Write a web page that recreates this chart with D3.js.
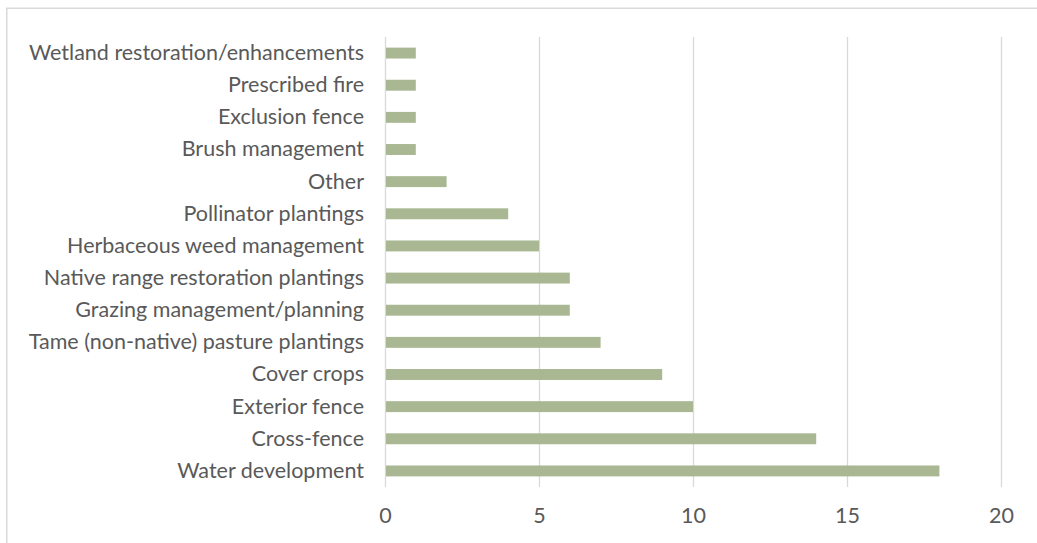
<!DOCTYPE html>
<html>
<head>
<meta charset="utf-8">
<script src="https://cdn.jsdelivr.net/npm/d3@7"></script>
<style>
  html, body { margin: 0; padding: 0; background: #fff; }
  svg { display: block; }
  text { font-family: "Lato", "DejaVu Sans", sans-serif; fill: #595959; }
</style>
</head>
<body>
<svg id="chart" width="1037" height="543"></svg>
<script>
const categories = [
  "Wetland restoration/enhancements",
  "Prescribed fire",
  "Exclusion fence",
  "Brush management",
  "Other",
  "Pollinator plantings",
  "Herbaceous weed management",
  "Native range restoration plantings",
  "Grazing management/planning",
  "Tame (non-native) pasture plantings",
  "Cover crops",
  "Exterior fence",
  "Cross-fence",
  "Water development"
];
const values = [1, 1, 1, 1, 2, 4, 5, 6, 6, 7, 9, 10, 14, 18];
const xTicks = [0, 5, 10, 15, 20];

(function () {
const svg = d3.select("#chart");
const W = 1037, H = 543;
const pLeft = 385, pRight = 1001, pTop = 37, pBottom = 487;

svg.append("rect")
  .attr("x", 6.75).attr("y", 8.25)
  .attr("width", W + 20).attr("height", H + 20)
  .attr("fill", "none").attr("stroke", "#d9d9d9").attr("stroke-width", 1.5);

const x = d3.scaleLinear().domain([0, 20]).range([pLeft, pRight]);
const y = d3.scaleBand().domain(categories).range([pTop, pBottom]).paddingInner(0.66).paddingOuter(0.33);

svg.append("g").selectAll("line").data(xTicks).join("line")
  .attr("x1", d => Math.round(x(d)) + 0.5).attr("x2", d => Math.round(x(d)) + 0.5)
  .attr("y1", pTop).attr("y2", pBottom)
  .attr("stroke", "#d9d9d9").attr("stroke-width", 1.3);

svg.append("g").selectAll("rect").data(values).join("rect")
  .attr("x", x(0) + 1)
  .attr("y", (d, i) => y(categories[i]))
  .attr("width", d => x(d) - x(0) - 1)
  .attr("height", y.bandwidth())
  .attr("fill", "#a9b793");

const yAxis = d3.axisLeft(y).tickSize(0).tickPadding(21);
const gy = svg.append("g").attr("transform", `translate(${pLeft},0)`).call(yAxis);
gy.select(".domain").remove();
gy.attr("font-family", null).attr("font-size", null);
gy.selectAll("text").attr("font-size", 21.5).attr("fill", null);

const xAxis = d3.axisBottom(x).tickValues(xTicks).tickSize(0).tickPadding(21);
const gx = svg.append("g").attr("transform", `translate(0,${pBottom})`).call(xAxis);
gx.select(".domain").remove();
gx.attr("font-family", null).attr("font-size", null);
gx.selectAll("text").attr("font-size", 21.5).attr("fill", null);
})();
</script>
</body>
</html>
